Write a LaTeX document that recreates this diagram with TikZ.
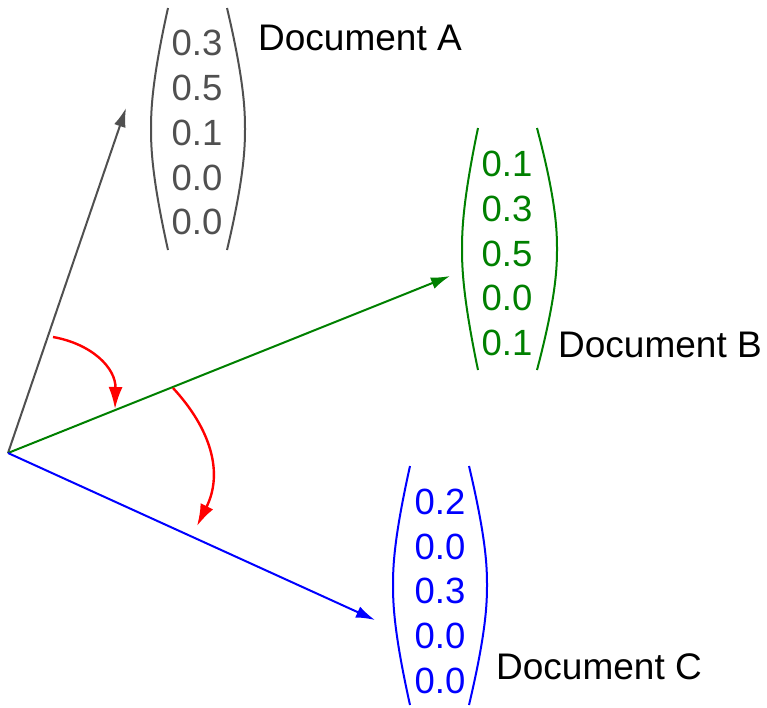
\documentclass[tikz,border=0pt]{standalone}
\usepackage{fontspec}
\setmainfont{Liberation Sans}
\usetikzlibrary{arrows.meta}
\definecolor{vgray}{HTML}{505050}
\definecolor{vgreen}{HTML}{008000}
\definecolor{vblue}{HTML}{0000FF}
\definecolor{vred}{HTML}{FF0000}
\begin{document}
\begin{tikzpicture}[x=1pt,y=-1pt,
  vec/.style={line width=2pt,-{Latex[length=19pt,width=12pt]}},
  turn/.style={line width=2.4pt,vred,-{Latex[length=22pt,width=14pt]}},
  brk/.style={line width=2pt},
  num/.style={inner sep=0pt,font=\fontsize{36.5}{36.5}\selectfont},
  doclabel/.style={inner sep=0pt,anchor=west,font=\fontsize{37}{37}\selectfont}]
\useasboundingbox (0,0) rectangle (767,707);
\coordinate (O) at (8,453);
\coordinate (tA) at (126,108);
\coordinate (tB) at (450,276);
\coordinate (tC) at (375,620);
% vectors
\draw[vec,vgray] (O) -- (tA);
\draw[vec,vgreen] (O) -- (tB);
\draw[vec,vblue] (O) -- (tC);
% red turning arrows
\coordinate (r1s) at (53,337);
\coordinate (r1e) at (115,409);
\coordinate (r2s) at (173,388);
\coordinate (r2e) at (197,526);
\draw[turn] (r1s) .. controls (92,344) and (116,368) .. (r1e);
\draw[turn] (r2s) .. controls (210,428) and (224,472) .. (r2e);
% Document A
\draw[brk,vgray] (168,8) .. controls (152,80) and (151,110) .. (151,129) .. controls (151,148) and (152,178) .. (168,250);
\draw[brk,vgray] (227,8) .. controls (244,80) and (245,110) .. (245,129) .. controls (245,148) and (244,178) .. (227,250);
\foreach \v/\y [count=\i] in {0.3/43,0.5/88,0.1/133,0.0/178,0.0/222}
  \node[num,text=vgray] (A\i) at (197,\y) {\v};
\node[doclabel] (labA) at (258,38) {Document A};
% Document B
\draw[brk,vgreen] (478,128) .. controls (463,200) and (462,230) .. (462,249) .. controls (462,268) and (463,298) .. (478,370);
\draw[brk,vgreen] (537,128) .. controls (556,200) and (557,230) .. (557,249) .. controls (557,268) and (556,298) .. (537,370);
\foreach \v/\y [count=\i] in {0.1/164,0.3/209,0.5/254,0.0/298,0.1/343}
  \node[num,text=vgreen] (B\i) at (507,\y) {\v};
\node[doclabel] (labB) at (558,345) {Document B};
% Document C
\draw[brk,vblue] (410,466) .. controls (394,538) and (393,566) .. (393,585) .. controls (393,604) and (394,633) .. (410,705);
\draw[brk,vblue] (469,466) .. controls (486,538) and (487,566) .. (487,585) .. controls (487,604) and (486,633) .. (469,705);
\foreach \v/\y [count=\i] in {0.2/502,0.0/547,0.3/591,0.0/636,0.0/681}
  \node[num,text=vblue] (C\i) at (440,\y) {\v};
\node[doclabel] (labC) at (496,667) {Document C};
\end{tikzpicture}
\end{document}
